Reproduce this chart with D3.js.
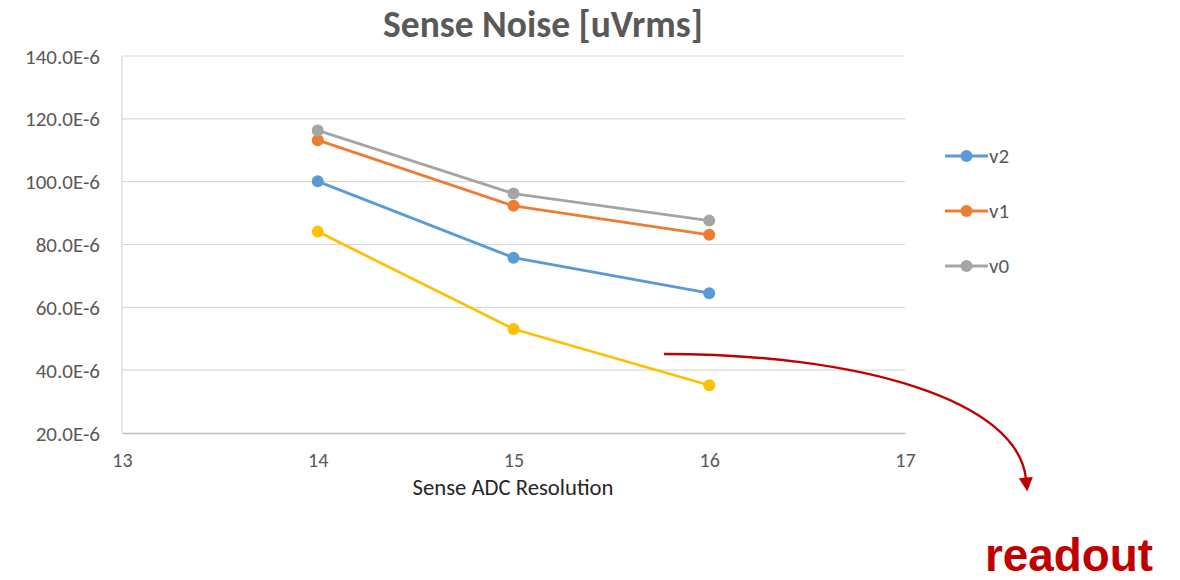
<!DOCTYPE html>
<html>
<head>
<meta charset="utf-8">
<script src="https://cdn.jsdelivr.net/npm/d3@7/dist/d3.min.js"></script>
<style>
  html, body { margin: 0; padding: 0; background: #fff; }
  svg { display: block; }
</style>
</head>
<body>
<svg id="chart" width="1180" height="580"></svg>
<script>
// ---- data ----
const xValues = [14, 15, 16];
const xTicks = [13, 14, 15, 16, 17];
const yTicks = [20, 40, 60, 80, 100, 120, 140]; // in E-6
const seriesNames = ["v2", "v1", "v0", "v3"];
const v2 = [100.1, 75.8, 64.5];
const v1 = [113.2, 92.3, 83.1];
const v0 = [116.3, 96.2, 87.6];
const v3 = [84.1, 53.1, 35.2];
const legendNames = ["v2", "v1", "v0"];
const titleText = "Sense Noise [uVrms]";
const xTitle = "Sense ADC Resolution";
const noteText = "readout";

const colors = { v2: "#5b9bd5", v1: "#ed7d31", v0: "#a5a5a5", v3: "#ffc000" };
const seriesData = { v2, v1, v0, v3 };

const svg = d3.select("#chart");
const font = "Calibri, Carlito, 'Open Sans', 'Liberation Sans', sans-serif";

const x = d3.scaleLinear().domain([13, 17]).range([122, 905]);
const y = d3.scaleLinear().domain([20, 140]).range([433, 56]);

function fit(sel, target) {
  const node = sel.node();
  const w = node.getComputedTextLength();
  const fs = parseFloat(sel.attr("font-size"));
  sel.attr("font-size", fs * target / w);
}

// gridlines
svg.append("g").selectAll("line").data(yTicks.filter(d => d !== 20)).join("line")
  .attr("x1", x(13)).attr("x2", x(17))
  .attr("y1", d => y(d)).attr("y2", d => y(d))
  .attr("stroke", "#d9d9d9").attr("stroke-width", 1.2);

// left axis line
svg.append("line").attr("x1", x(13)).attr("x2", x(13)).attr("y1", y(140)).attr("y2", y(20))
  .attr("stroke", "#d9d9d9").attr("stroke-width", 1.2);

// y axis via d3
const yAxis = d3.axisLeft(y).tickValues(yTicks).tickSize(0).tickPadding(22)
  .tickFormat(d => d.toFixed(1) + "E-6");
const yg = svg.append("g").attr("transform", `translate(${x(13)},0)`).call(yAxis);
yg.select(".domain").remove();
yg.selectAll("text").attr("font-family", font).attr("font-size", 21).attr("fill", "#595959")
  .attr("dy", "0.34em");

// x axis via d3
const xAxis = d3.axisBottom(x).tickValues(xTicks).tickSize(0).tickPadding(20).tickFormat(d3.format("d"));
const xg = svg.append("g").attr("transform", `translate(0,${y(20)})`).call(xAxis);
xg.select(".domain").attr("stroke", "#bfbfbf").attr("stroke-width", 1.3);
xg.selectAll("text").attr("font-family", font).attr("font-size", 20).attr("fill", "#595959");

// series
const line = d3.line().x((d, i) => x(xValues[i])).y(d => y(d));
const drawOrder = ["v3", "v2", "v1", "v0"];
drawOrder.forEach(name => {
  const vals = seriesData[name];
  svg.append("path").datum(vals).attr("d", line)
    .attr("fill", "none").attr("stroke", colors[name]).attr("stroke-width", 2.8)
    .attr("stroke-linejoin", "round");
  svg.append("g").selectAll("circle").data(vals).join("circle")
    .attr("cx", (d, i) => x(xValues[i])).attr("cy", d => y(d)).attr("r", 6)
    .attr("fill", colors[name]);
});

// title
const t = svg.append("text").attr("x", 543).attr("y", 37).attr("text-anchor", "middle")
  .attr("font-family", font).attr("font-weight", "bold").attr("font-size", 32)
  .attr("fill", "#595959").text(titleText);
fit(t, 320);

// x title
const xt = svg.append("text").attr("x", 513).attr("y", 495).attr("text-anchor", "middle")
  .attr("font-family", font).attr("font-size", 18).attr("fill", "#262626").text(xTitle);
fit(xt, 201);

// legend
const legendY = d3.scalePoint().domain(legendNames).range([156, 266]);
const lg = svg.append("g").selectAll("g").data(legendNames).join("g")
  .attr("transform", d => `translate(0,${legendY(d)})`);
lg.append("line").attr("x1", 945).attr("x2", 988).attr("y1", 0).attr("y2", 0)
  .attr("stroke", d => colors[d]).attr("stroke-width", 2.8);
lg.append("circle").attr("cx", 966.5).attr("cy", 0).attr("r", 6).attr("fill", d => colors[d]);
lg.append("text").attr("x", 989).attr("y", 7).attr("font-family", font).attr("font-size", 21)
  .attr("fill", "#595959").text(d => d);

// annotation arrow
const red = "#c00000";
const defs = svg.append("defs");
defs.append("marker").attr("id", "ah").attr("viewBox", "0 0 10 10").attr("refX", 1).attr("refY", 5)
  .attr("markerWidth", 15).attr("markerHeight", 14).attr("orient", "auto")
  .attr("markerUnits", "userSpaceOnUse")
  .append("path").attr("d", "M0,0 L10,5 L0,10 Z").attr("fill", red);
const arrowPath = d3.path();
arrowPath.moveTo(664, 354);
arrowPath.bezierCurveTo(860, 354, 1018, 400, 1026, 479);
svg.append("path").attr("d", arrowPath.toString()).attr("fill", "none")
  .attr("stroke", red).attr("stroke-width", 2.4).attr("marker-end", "url(#ah)");

const nt = svg.append("text").attr("x", 985).attr("y", 571)
  .attr("font-family", "'Liberation Sans', Arial, sans-serif").attr("font-weight", "bold")
  .attr("font-size", 46).attr("fill", red).text(noteText);
fit(nt, 168);
</script>
</body>
</html>
